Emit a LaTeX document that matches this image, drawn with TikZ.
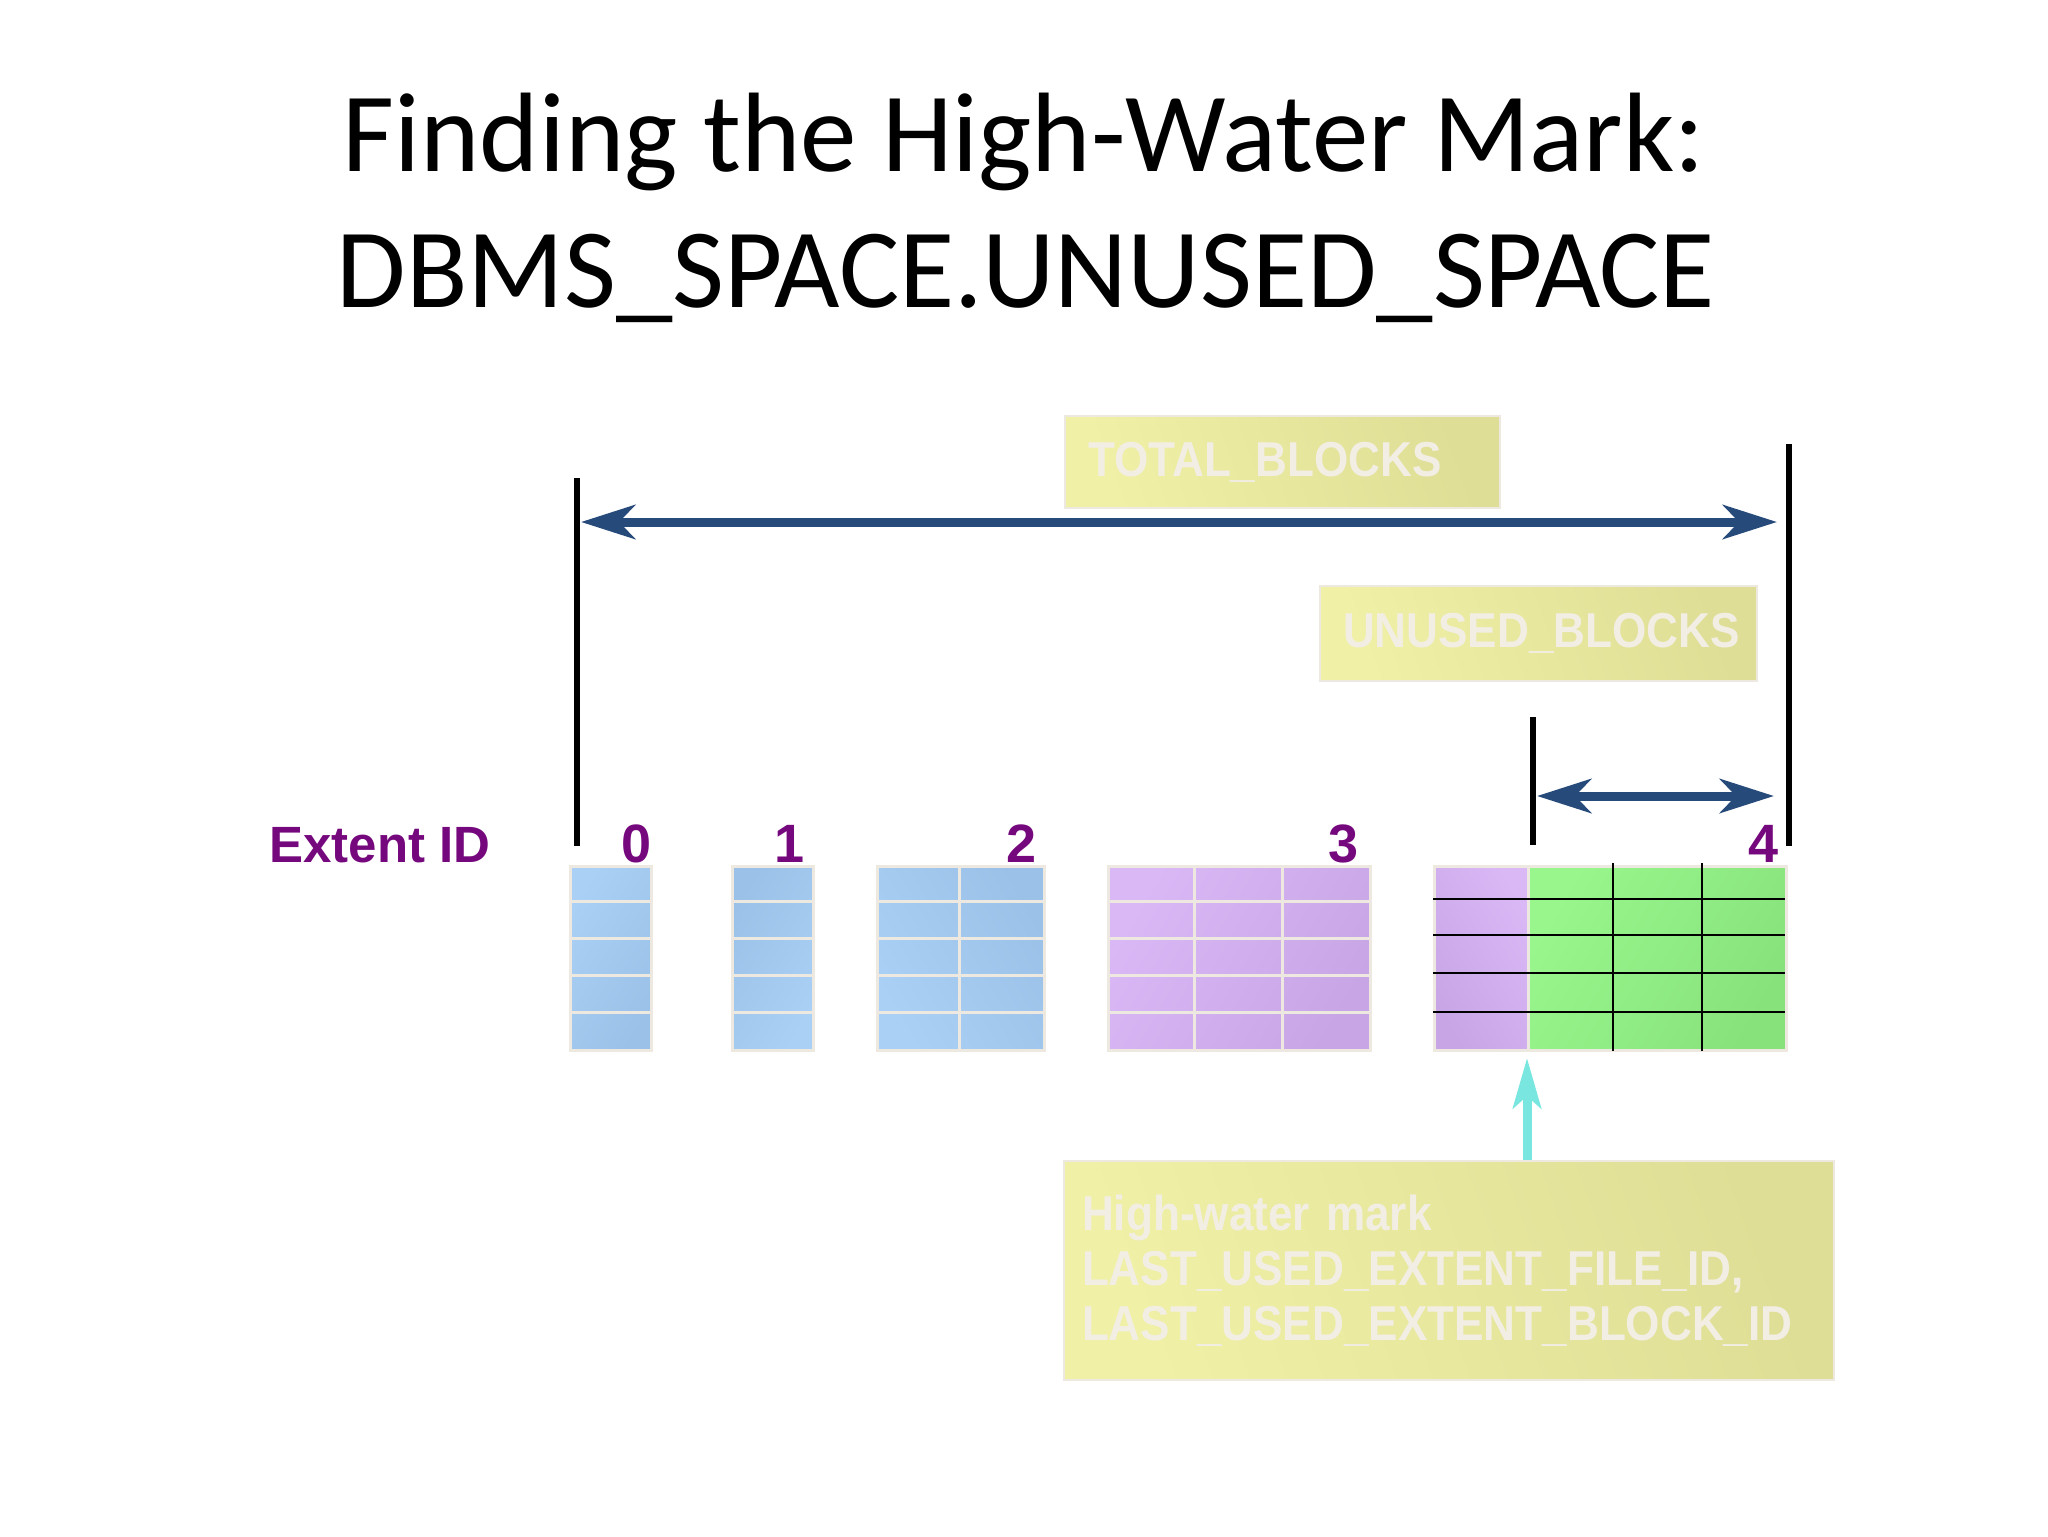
\documentclass[tikz,border=0pt]{standalone}
\usepackage{fontspec}
\usetikzlibrary{arrows.meta}
\newfontfamily\titlefont{Carlito}
\newfontfamily\arialfont{Liberation Sans}
\newfontfamily\narrowfont[FakeStretch=0.9]{Liberation Sans}
\definecolor{bluearrow}{RGB}{38,74,122}
\definecolor{cyanarrow}{RGB}{122,230,224}
\definecolor{extpurple}{RGB}{118,8,126}
\definecolor{cellline}{RGB}{237,233,225}
\definecolor{boxlight}{RGB}{240,240,166}
\definecolor{boxdark}{RGB}{222,222,150}
\definecolor{boxtext}{RGB}{242,238,228}
\definecolor{bluecellA}{RGB}{170,208,245}
\definecolor{bluecellB}{RGB}{155,193,232}
\definecolor{purpcellA}{RGB}{218,184,246}
\definecolor{purpcellB}{RGB}{200,166,230}
\definecolor{greencellA}{RGB}{152,246,140}
\definecolor{greencellB}{RGB}{136,226,124}
\tikzset{
  vline/.style={line width=2.6pt, black},
  bigarrow/.style={line width=4.5pt, bluearrow, {Stealth[length=27pt,width=17pt,inset=8pt]}-{Stealth[length=27pt,width=17pt,inset=8pt]}},
  upcyan/.style={line width=4.5pt, cyanarrow, -{Stealth[length=25pt,width=14pt,inset=6pt]}},
  ybox/.style={draw=cellline, line width=1pt, left color=boxlight, right color=boxdark, shading angle=110,
    font=\narrowfont\bfseries\fontsize{24.5}{27.5}\selectfont, text=boxtext, align=left, inner sep=0pt},
  extbox/.style={draw=cellline, line width=1.5pt, inner sep=0pt, anchor=north west},
  digit/.style={font=\arialfont\bfseries\fontsize{27}{30}\selectfont, text=extpurple, anchor=base, inner sep=0pt},
  gridcream/.style={cellline, line width=1.5pt},
  gridblack/.style={black, line width=1.4pt}
}
\begin{document}
\begin{tikzpicture}[x=0.5pt,y=-0.5pt]
\useasboundingbox[fill=white] (0,0) rectangle (2048,1536);
% title
\node[font=\titlefont\fontsize{56.5}{68}\selectfont, anchor=base, inner sep=0pt] (title) at (1024,171)
  {Finding the High-Water Mark:};
\node[font=\titlefont\fontsize{56.5}{68}\selectfont, anchor=base, inner sep=0pt] (title2) at (1026,307)
  {DBMS\_SPACE.UNUSED\_SPACE};
% yellow boxes
\node[ybox, minimum width=217.5pt, minimum height=46pt, text width=194.5pt, inner xsep=11.5pt] (total) at (1282.5,462) {TOTAL\_BLOCKS};
\node[ybox, minimum width=218.5pt, minimum height=47.5pt, text width=195.5pt, inner xsep=11.5pt] (unused) at (1538.5,633.5) {UNUSED\_BLOCKS};
\node[ybox, minimum width=385pt, minimum height=109.5pt, text width=367pt, inner xsep=9pt] (hwm) at (1449,1270.5)
  {High-water mark\\LAST\_USED\_EXTENT\_FILE\_ID,\\LAST\_USED\_EXTENT\_BLOCK\_ID};
% extent label and digits
\node[font=\arialfont\bfseries\fontsize{25.5}{30}\selectfont, text=extpurple, anchor=base west, inner sep=0pt] (extlabel) at (269,862) {Extent ID};
\node[digit] (d0) at (637,862) {0};
\node[digit] (d1) at (790,862) {1};
\node[digit] (d2) at (1021,862) {2};
\node[digit] (d3) at (1343,862) {3};
\node[digit] (d4) at (1763,862) {4};
% extents
\node[extbox, left color=bluecellA, right color=bluecellB, shading angle=60, minimum width=40.5pt, minimum height=92pt] (e0) at (569,865) {};
\node[extbox, left color=bluecellB, right color=bluecellA, shading angle=60, minimum width=40.5pt, minimum height=92pt] (e1) at (731,865) {};
\node[extbox, left color=bluecellA, right color=bluecellB, shading angle=120, minimum width=83.5pt, minimum height=92pt] (e2) at (876,865) {};
\node[extbox, left color=purpcellA, right color=purpcellB, shading angle=60, minimum width=131pt, minimum height=92pt] (e3) at (1107,865) {};
\node[extbox, left color=purpcellB, right color=purpcellA, shading angle=120, minimum width=47pt, minimum height=92pt] (e4a) at (1433,865) {};
\node[extbox, left color=greencellA, right color=greencellB, shading angle=60, minimum width=129pt, minimum height=92pt] (e4b) at (1527,865) {};
% cream grid lines
\foreach \yy in {901.8,938.6,975.4,1012.2} {
  \draw[gridcream] (569,\yy) -- (650,\yy);
  \draw[gridcream] (731,\yy) -- (812,\yy);
  \draw[gridcream] (876,\yy) -- (1043,\yy);
  \draw[gridcream] (1107,\yy) -- (1369,\yy);
}
\draw[gridcream] (959.5,865) -- (959.5,1049);
\draw[gridcream] (1194,865) -- (1194,1049);
\draw[gridcream] (1282,865) -- (1282,1049);
% black grid on extent 4
\foreach \yy in {899,935,973,1012} {
  \draw[gridblack] (1433,\yy) -- (1785,\yy);
}
\draw[gridblack] (1613,863) -- (1613,1051);
\draw[gridblack] (1702,863) -- (1702,1051);
% vertical marker lines
\coordinate (ltop) at (577,478);
\coordinate (lbot) at (577,846);
\coordinate (rtop) at (1789,444);
\coordinate (rbot) at (1789,846);
\coordinate (mtop) at (1533,717);
\coordinate (mbot) at (1533,845);
\draw[vline] (ltop) -- (lbot);
\draw[vline] (rtop) -- (rbot);
\draw[vline] (mtop) -- (mbot);
% arrows
\coordinate (tl) at (581,522);
\coordinate (tr) at (1777,522);
\coordinate (ul) at (1537,796);
\coordinate (ur) at (1774,796);
\draw[bigarrow] (tl) -- (tr);
\draw[bigarrow] (ul) -- (ur);
\coordinate (hwmpt) at (1527,1058);
\draw[upcyan] (hwm.north -| hwmpt) -- (hwmpt);
\end{tikzpicture}
\end{document}
